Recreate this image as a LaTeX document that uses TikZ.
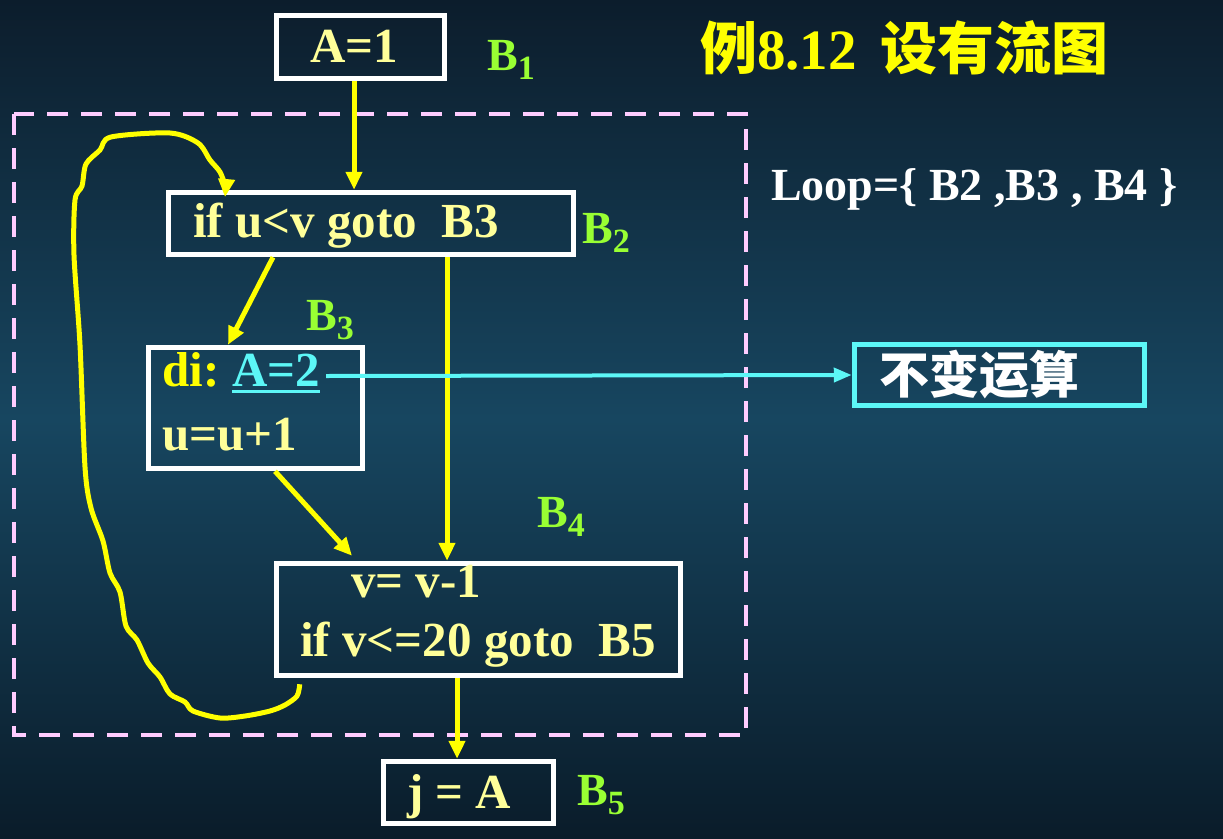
\documentclass[tikz,border=0pt]{standalone}
\usepackage{fontspec}
\setmainfont{Liberation Serif}
\newfontfamily\cjk{Noto Sans CJK SC}
\usetikzlibrary{arrows.meta,calc}
\definecolor{bgtop}{HTML}{0C1D2C}
\definecolor{bgmid}{HTML}{174660}
\definecolor{bgbot}{HTML}{0A1C2A}
\definecolor{lyel}{HTML}{FFFF99}
\definecolor{yel}{HTML}{FFFF00}
\definecolor{grn}{HTML}{99FF33}
\definecolor{cyn}{HTML}{5CF7F7}
\definecolor{pnk}{HTML}{FFCCFF}
\begin{document}
\begin{tikzpicture}[x=1pt,y=-1pt,
  box/.style={draw=white,line width=5.5pt,inner sep=0pt},
  txt/.style={inner sep=0pt,anchor=base west,text=lyel,font=\fontsize{49}{52}\selectfont\bfseries},
  blab/.style={inner sep=0pt,anchor=base west,text=grn,font=\fontsize{46}{50}\selectfont\bfseries},
  arr/.style={draw=yel,line width=5pt,-{Triangle[length=18pt,width=16pt]}},
  carr/.style={draw=cyn,line width=4pt,-{Triangle[length=18pt,width=14pt]}},
]
\useasboundingbox (0,0) rectangle (1223,838);
\shade[top color=bgtop,bottom color=bgbot,middle color=bgmid] (0,0) rectangle (1223,838);

% loop region
\draw[pnk,line width=4.5pt,dash pattern=on 21pt off 13pt] (14,114) rectangle (746,735);

% boxes
\node[box,minimum width=168,minimum height=63] (b1) at (360.5,47) {};
\node[box,minimum width=405,minimum height=62] (b2) at (371,223.5) {};
\node[box,minimum width=214,minimum height=121] (b3) at (255.5,408) {};
\node[box,minimum width=404,minimum height=112] (b4) at (478.5,619.5) {};
\node[box,minimum width=170,minimum height=62] (b5) at (468.5,792.5) {};
\node[draw=cyn,line width=5.5pt,inner sep=0pt,minimum width=290,minimum height=61] (inv) at (999.5,375) {};

% texts in boxes
\node[txt] (t1) at (310,62) {A=1};
\node[txt] (t2) at (193,237) {if u<v goto\ \ B3};
\node[txt,text=yel] (t3a) at (162,386) {di:};
\node[txt,text=cyn] (a2) at (232,386) {A=2};
\draw[cyn,line width=3pt] ([yshift=-5pt]a2.base west) -- ([yshift=-5pt]a2.base east);
\node[txt] (t3b) at (162,450) {u=u+1};
\node[txt] (t4a) at (351,597) {v= v-1};
\node[txt] (t4b) at (300,656) {if v<=20 goto\ \ B5};
\node[txt] (t5) at (407,808) {j = A};
\node[inner sep=0pt,anchor=base west,text=white,font=\cjk\bfseries\fontsize{50}{54}\selectfont] (tinv) at (879,393) {不变运算};

% block labels
\node[blab] (l1) at (487,70) {B\raisebox{-9pt}{\fontsize{34}{36}\selectfont 1}};
\node[blab] (l2) at (582,243) {B\raisebox{-9pt}{\fontsize{34}{36}\selectfont 2}};
\node[blab] (l3) at (306,330) {B\raisebox{-9pt}{\fontsize{34}{36}\selectfont 3}};
\node[blab] (l4) at (537,527) {B\raisebox{-9pt}{\fontsize{34}{36}\selectfont 4}};
\node[blab] (l5) at (577,805) {B\raisebox{-9pt}{\fontsize{34}{36}\selectfont 5}};

% title and loop set
\node[inner sep=0pt,anchor=base west,text=yel] (title) at (700,69)
  {{\cjk\bfseries\fontsize{57}{60}\selectfont 例}{\bfseries\fontsize{57}{58}\selectfont 8.12\ \,}{\cjk\bfseries\fontsize{57}{60}\selectfont 设有流图}};
\node[inner sep=0pt,anchor=base west,text=white,font=\fontsize{46}{50}\selectfont\bfseries] (loop) at (771,200) {Loop=\{ B2 ,B3 , B4 \}};

% connectors
\coordinate (s1) at ([xshift=-6.5pt]b1.south);
\draw[arr] (s1) -- (s1 |- b2.north);
\draw[arr] ([xshift=-98pt]b2.south) -- ([xshift=-27.5pt]b3.north);
\coordinate (s2) at ([xshift=76pt]b2.south);
\draw[arr] (s2) -- (s2 |- b4.north);
\draw[arr] ([xshift=19.5pt]b3.south) -- ([xshift=-126.5pt,yshift=5pt]b4.north);
\coordinate (s4) at ([xshift=-21.5pt]b4.south);
\draw[arr] (s4) -- (s4 |- b5.north);
\draw[carr] ([xshift=6pt,yshift=10pt]a2.base east) -- (inv.west);

% back edge (hand drawn)
\coordinate (lb0) at ([xshift=26pt,yshift=-6pt]b4.south west);
\draw[draw=yel,line width=5pt,-{Triangle[length=18pt,width=16pt]},line join=round]
  plot[smooth,tension=0.5] coordinates {(lb0) (297,696) (285,705) (270,711) (245,716) (220,718)
   (193,711) (185,702) (170,694) (160,677) (148,663) (137,640) (126,626) (120,592) (110,573)
   (103,541) (91,508) (85,467) (80,345) (74,255) (75,200) (82,186) (86,164) (100,150)
   (111,137) (170,133) (198,143) (210,160) (220,172) (225,186) (225,197)};
\end{tikzpicture}
\end{document}
